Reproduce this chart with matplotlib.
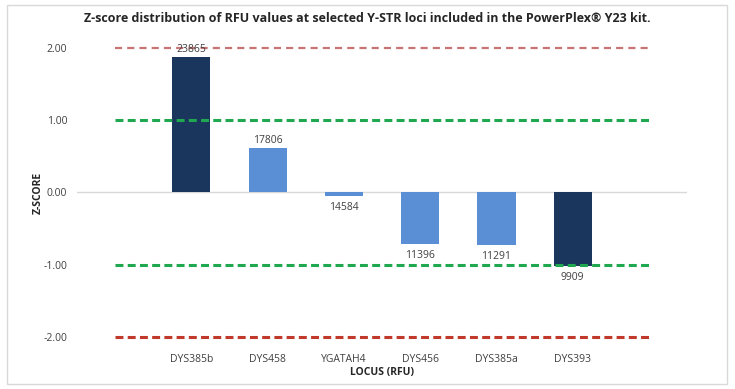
import matplotlib
matplotlib.use('Agg')
from matplotlib import pyplot as plt
from matplotlib.patches import Rectangle

# data
loci = ['DYS385b', 'DYS458', 'YGATAH4', 'DYS456', 'DYS385a', 'DYS393']
zscores = [1.875, 0.62, -0.05, -0.71, -0.73, -1.02]
rfu = [23865, 17806, 14584, 11396, 11291, 9909]
bar_colors = ['#1b365d', '#5a8fd5', '#5a8fd5', '#5a8fd5', '#5a8fd5', '#1b365d']

plt.rcParams['font.family'] = ['Open Sans', 'DejaVu Sans']

fig = plt.figure(figsize=(7.35, 3.89), dpi=100)
ax = fig.add_axes([0.1048, 0.134, 0.83, 0.7425])

# frame around the whole chart
fig.patches.append(Rectangle((0.009, 0.013), 0.98, 0.975, transform=fig.transFigure,
                             fill=False, edgecolor='#d9d9d9', linewidth=1))

xpos = list(range(1, len(loci) + 1))
ax.bar(xpos, zscores, width=0.5, color=bar_colors, zorder=2)

# reference lines across categories 0..7
ends = [0, len(loci) + 1]
ax.plot(ends, [2, 2], color='#c97474', lw=1.6, dashes=(3.2, 2.3), zorder=3, clip_on=False)
ax.plot(ends, [1, 1], color='#1fa84f', lw=2.2, dashes=(2.6, 1.4), zorder=3)
ax.plot(ends, [-1, -1], color='#1fa84f', lw=2.2, dashes=(2.6, 1.4), zorder=3)
ax.plot(ends, [-2, -2], color='#c0392b', lw=2.2, dashes=(2.6, 1.4), zorder=3, clip_on=False)

ax.axhline(0, color='#d9d9d9', lw=1, zorder=1)

for x, z, r in zip(xpos, zscores, rfu):
    if z >= 0:
        ax.text(x, z + 0.03, str(r), ha='center', va='bottom', fontsize=7.5, color='#404040', zorder=4)
    else:
        ax.text(x, z - 0.08, str(r), ha='center', va='top', fontsize=7.5, color='#404040', zorder=4)

ax.set_xlim(-0.5, len(loci) + 1.5)
ax.set_ylim(-2, 2)
ax.set_xticks(xpos)
ax.set_xticklabels(loci)
ax.set_yticks([-2, -1, 0, 1, 2])
ax.set_yticklabels(['-2.00', '-1.00', '0.00', '1.00', '2.00'])
ax.tick_params(axis='both', length=0, labelsize=7.5, colors='#404040')
ax.tick_params(axis='y', pad=7)
ax.tick_params(axis='x', pad=12)
for s in ax.spines.values():
    s.set_visible(False)

ax.set_xlabel('LOCUS (RFU)', fontsize=7.5, fontweight='bold', color='#262626', labelpad=2)
ax.set_ylabel('Z-SCORE', fontsize=7.5, fontweight='bold', color='#262626', labelpad=0)
fig.text(0.5, 0.952, 'Z-score distribution of RFU values at selected Y-STR loci included in the PowerPlex® Y23 kit.',
         ha='center', va='center', fontsize=9, fontweight='bold', color='#262626')

plt.savefig('out.png', dpi=100)
